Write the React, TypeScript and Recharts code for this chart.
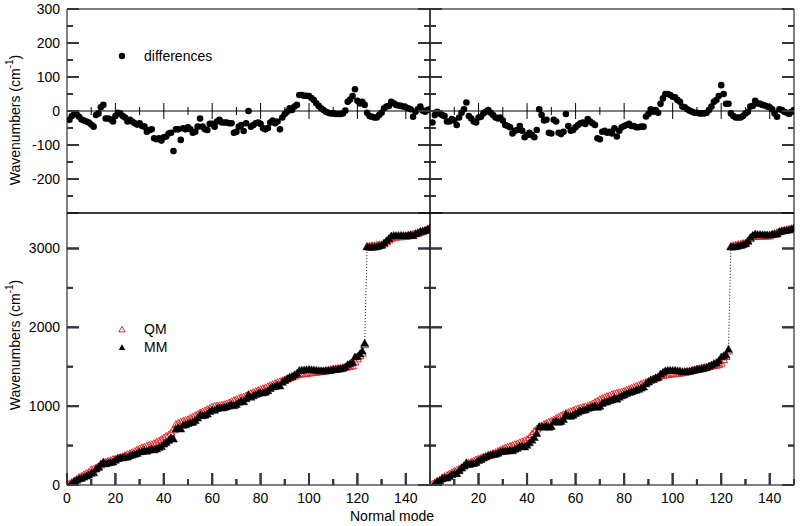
import React from 'react';
import { ScatterChart, Scatter, XAxis, YAxis, ReferenceLine, Legend } from 'recharts';

const FONT = '"Liberation Sans", Arial, Helvetica, sans-serif';
const RED = '#e8262a';
const INK = '#000';
const TICK = '#3a3048';

// ---------- tick values ----------
const xTicks = [0, 10, 20, 30, 40, 50, 60, 70, 80, 90, 100, 110, 120, 130, 140, 150];
const zeroLineTicks = [10, 20, 30, 40, 50, 60, 70, 80, 90, 100, 110, 120, 130, 140];
const diffTicks = [-300, -250, -200, -150, -100, -50, 0, 50, 100, 150, 200, 250, 300];
const waveTicks = [0, 500, 1000, 1500, 2000, 2500, 3000];

// ---------- data (normal modes 1..150) ----------
const diffLeft = [
  -26, -15, -7, -10, -17, -25, -28, -31, -34, -40,
  -46, -12, -7, 11, 18, -22, -22, -25, -31, -15,
  -5, -7, -15, -19, -31, -26, -31, -36, -40, -36,
  -44, -46, -61, -56, -54, -80, -83, -80, -87, -77,
  -75, -66, -64, -118, -54, -54, -85, -51, -54, -48,
  -54, -64, -61, -46, -22, -46, -54, -56, -38, -38,
  -46, -31, -26, -34, -34, -34, -36, -36, -64, -61,
  -46, -41, -59, -36, 0, -46, -41, -36, -34, -38,
  -51, -54, -50, -34, -28, -36, -31, -54, -19, -9,
  -2, 8, 3, 13, 18, 47, 47, 45, 45, 44,
  38, 32, 23, 15, 8, 3, -2, -5, -7, -7,
  -9, -9, -9, -7, 1, 27, 34, 44, 64, 30,
  22, 27, 18, -5, -15, -17, -19, -19, -12, -5,
  8, 13, 15, 27, 23, 18, 16, 15, 13, 11,
  8, 5, -17, -2, 5, 13, 1, -2, 3, 5,
];

const diffRight = [
  -34, -12, -2, -7, -12, -15, -31, -31, -24, -28,
  -41, -19, -5, 5, 25, -15, -22, -31, -34, -19,
  -17, -7, -2, 3, -5, -12, -19, -22, -19, -28,
  -41, -44, -48, -66, -58, -56, -44, -58, -77, -71,
  -64, -71, -77, -56, 5, -12, -28, -26, -64, -66,
  -26, -31, -64, -68, -61, -9, -44, -58, -56, -48,
  -41, -36, -34, -38, -24, -31, -36, -41, -80, -83,
  -61, -58, -64, -61, -66, -51, -75, -58, -48, -44,
  -41, -38, -44, -44, -48, -48, -46, -46, -16, -9,
  5, -2, 3, -5, 21, 37, 50, 50, 47, 42,
  40, 32, 27, 13, 11, 5, 1, -2, -5, -5,
  -7, -7, -7, -5, 3, 13, 27, 32, 44, 76,
  50, 21, 21, -7, -15, -19, -19, -19, -15, -7,
  -2, 13, 15, 30, 22, 21, 18, 16, 13, 11,
  5, -7, -17, 5, 3, -2, -5, -9, -2, 3,
];

const qmLeft = [
  15, 35, 52, 70, 95, 110, 128, 145, 160, 190,
  200, 215, 232, 255, 275, 290, 300, 310, 322, 330,
  340, 350, 360, 372, 385, 398, 410, 425, 440, 456,
  470, 480, 490, 500, 511, 525, 540, 556, 575, 596,
  615, 632, 660, 700, 765, 780, 795, 808, 818, 828,
  845, 860, 878, 895, 912, 925, 940, 955, 970, 988,
  995, 1000, 1005, 1010, 1018, 1028, 1040, 1055, 1070, 1082,
  1095, 1105, 1115, 1130, 1145, 1160, 1172, 1185, 1196, 1208,
  1220, 1232, 1245, 1258, 1272, 1285, 1298, 1310, 1322, 1335,
  1348, 1360, 1372, 1385, 1398, 1405, 1410, 1414, 1417, 1420,
  1424, 1428, 1432, 1436, 1440, 1445, 1450, 1456, 1462, 1470,
  1474, 1478, 1482, 1488, 1495, 1500, 1506, 1512, 1560, 1600,
  1640, 1673, 1780, 3025, 3030, 3034, 3037, 3040, 3043, 3046,
  3060, 3085, 3110, 3130, 3143, 3146, 3148, 3150, 3151, 3152,
  3160, 3170, 3180, 3188, 3194, 3205, 3218, 3230, 3242, 3257,
];

const qmRight = [
  10, 28, 45, 62, 90, 105, 120, 138, 155, 173,
  185, 200, 220, 240, 258, 275, 290, 305, 318, 330,
  340, 350, 360, 372, 385, 398, 410, 425, 440, 456,
  468, 478, 488, 500, 511, 522, 535, 548, 560, 575,
  600, 640, 680, 710, 735, 750, 765, 780, 795, 807,
  825, 842, 860, 875, 891, 905, 918, 930, 942, 955,
  965, 975, 983, 990, 997, 1010, 1028, 1045, 1065, 1082,
  1095, 1108, 1120, 1132, 1145, 1155, 1163, 1171, 1179, 1187,
  1200, 1212, 1225, 1238, 1250, 1262, 1275, 1288, 1300, 1314,
  1328, 1342, 1356, 1370, 1386, 1392, 1398, 1403, 1407, 1411,
  1414, 1417, 1420, 1424, 1428, 1435, 1443, 1452, 1461, 1470,
  1476, 1482, 1489, 1496, 1504, 1510, 1515, 1520, 1530, 1546,
  1590, 1630, 1700, 3025, 3035, 3042, 3050, 3056, 3062, 3067,
  3095, 3125, 3152, 3154, 3155, 3156, 3157, 3158, 3159, 3160,
  3175, 3188, 3200, 3210, 3220, 3228, 3236, 3244, 3250, 3257,
];

type Pt = { x: number; y: number };
const toPts = (arr: number[]): Pt[] => arr.map((v, i) => ({ x: i + 1, y: v }));
const toMM = (qm: number[], diff: number[]): Pt[] => qm.map((v, i) => ({ x: i + 1, y: v + diff[i] }));
const zeroTickPts: Pt[] = zeroLineTicks.map((v) => ({ x: v, y: 0 }));

// ---------- markers ----------
const triPath = (cx: number, cy: number, s = 1) =>
  `M${cx},${cy - 4 * s}L${cx + 4 * s},${cy + 3 * s}L${cx - 4 * s},${cy + 3 * s}Z`;

const DotShape = (p: any) => <circle cx={p.cx} cy={p.cy} r={3.3} fill={INK} />;
const MMShape = (p: any) => <path d={triPath(p.cx, p.cy)} fill={INK} stroke={INK} strokeWidth={0.5} />;
const QMShape = (p: any) => <path d={triPath(p.cx, p.cy)} fill="none" stroke={RED} strokeWidth={1} />;
const ZeroTickShape = (p: any) => {
  const v = p.payload ? p.payload.x : 0;
  const len = v % 20 === 0 ? 8 : 4;
  return <line x1={p.cx} x2={p.cx} y1={p.cy - len} y2={p.cy + len} stroke={INK} strokeWidth={1} />;
};

const textStyle = { fontSize: 14, fontFamily: FONT, fill: INK } as const;

// ---------- axis titles ----------
function makeYLabel(centerY: number) {
  return (props: any) => {
    const vb = props.viewBox || { x: 66, width: 1 };
    const cx = vb.x + (vb.width || 0) - 47;
    return (
      <text transform={`translate(${cx},${centerY}) rotate(-90)`} textAnchor="middle" {...textStyle}>
        Wavenumbers (cm<tspan dy={-7} fontSize={10}>-1</tspan>
        <tspan dy={7}>)</tspan>
      </text>
    );
  };
}

const xLabel = (props: any) => {
  const vb = props.viewBox || { x: 67, y: 485 };
  return (
    <text x={vb.x + 325} y={vb.y + 36} textAnchor="middle" {...textStyle}>Normal mode</text>
  );
};

// ---------- legends ----------
type LegendItem = { name: string; marker: 'dot' | 'qm' | 'mm' };
const legendDiff: LegendItem[] = [{ name: 'differences', marker: 'dot' }];
const legendWave: LegendItem[] = [
  { name: 'QM', marker: 'qm' },
  { name: 'MM', marker: 'mm' },
];

const legendContent = (items: LegendItem[]) => () => (
  <div style={{ fontFamily: FONT, fontSize: 14, color: INK }}>
    {items.map((it) => (
      <div key={it.name} style={{ display: 'flex', alignItems: 'center', height: 18 }}>
        <svg width={12} height={18} style={{ display: 'block' }}>
          {it.marker === 'dot' ? <circle cx={6} cy={9} r={3.2} fill={INK} /> : null}
          {it.marker === 'qm' ? <path d={triPath(6, 9.5, 0.8)} fill="none" stroke={RED} strokeWidth={1} /> : null}
          {it.marker === 'mm' ? <path d={triPath(6, 9.5, 0.8)} fill={INK} /> : null}
        </svg>
        <span style={{ marginLeft: 16, lineHeight: '18px', whiteSpace: 'nowrap' }}>{it.name}</span>
      </div>
    ))}
  </div>
);

// ---------- panel ----------
type PanelProps = {
  kind: 'diff' | 'wave';
  side: 'left' | 'right';
  diff: number[];
  qm: number[];
};

function Panel({ kind, side, diff, qm }: PanelProps) {
  const isDiff = kind === 'diff';
  const isLeft = side === 'left';
  const margin = {
    top: (isDiff ? 9 : 213) - 1,
    bottom: (isDiff ? 313 : 41) - 1,
    left: (isLeft ? 67 : 430) - 1,
    right: (isLeft ? 370 : 6) - 1,
  };
  const yDomain: [number, number] = isDiff ? [-300, 300] : [0, 3450];
  const yTicks = isDiff ? diffTicks : waveTicks;
  const yMajor = isDiff ? 100 : 1000;
  const minYLabel = isDiff ? -200 : 0;
  const minXLabel = isLeft ? 0 : 20;
  const leftPts = yTicks.map((v) => ({ x: 0, y: v }));
  const rightPts = yTicks.map((v) => ({ x: 150, y: v }));
  const botPts = xTicks.map((v) => ({ x: v, y: yDomain[0] }));
  const yLen = (v: number) => (v % yMajor === 0 ? 12 : 6);
  const xLen = (v: number) => (v % 20 === 0 ? 12 : 6);

  return (
    <div style={{ position: 'absolute', left: 0, top: 0, width: 800, height: 526 }}>
      <ScatterChart width={800} height={526} margin={margin}>
        <XAxis
          type="number"
          dataKey="x"
          domain={[0, 150]}
          ticks={xTicks}
          interval={0}
          allowDataOverflow
          height={1}
          tickSize={0}
          tickMargin={0}
          tickLine={false}
          axisLine={{ stroke: INK }}
          tick={(p: any) =>
            isDiff ? (
              <g />
            ) : (
              <g>
                <line x1={p.x} x2={p.x} y1={p.y} y2={p.y - xLen(p.payload.value)} stroke={TICK} strokeWidth={2} />
                {p.payload.value % 20 === 0 && p.payload.value >= minXLabel && p.payload.value < 150 ? (
                  <text x={p.x} y={p.y + 18} textAnchor="middle" {...textStyle}>{p.payload.value}</text>
                ) : null}
              </g>
            )
          }
          label={!isDiff && isLeft ? xLabel : undefined}
        />
        <XAxis
          xAxisId="t"
          orientation="top"
          type="number"
          domain={[0, 150]}
          allowDataOverflow
          height={1}
          tickSize={0}
          tickLine={false}
          tick={() => <g />}
          axisLine={{ stroke: INK }}
        />
        <YAxis
          type="number"
          dataKey="y"
          domain={yDomain}
          ticks={yTicks}
          interval={0}
          allowDataOverflow
          width={1}
          tickSize={0}
          tickMargin={0}
          tickLine={false}
          axisLine={{ stroke: INK }}
          tick={(p: any) => (
            <g>
              <line x1={p.x} x2={p.x + yLen(p.payload.value)} y1={p.y} y2={p.y} stroke={TICK} strokeWidth={2} />
              {isLeft && p.payload.value % yMajor === 0 && p.payload.value >= minYLabel ? (
                <text x={p.x - 7} y={p.y + 5} textAnchor="end" {...textStyle}>{p.payload.value}</text>
              ) : null}
            </g>
          )}
          label={isLeft ? makeYLabel(isDiff ? 120 : 345) : undefined}
        />
        <YAxis
          yAxisId="r"
          orientation="right"
          type="number"
          domain={yDomain}
          ticks={yTicks}
          interval={0}
          allowDataOverflow
          width={1}
          tickSize={0}
          tickMargin={0}
          tickLine={false}
          axisLine={{ stroke: INK }}
          tick={(p: any) => (
            <g>
              <line x1={p.x - yLen(p.payload.value)} x2={p.x} y1={p.y} y2={p.y} stroke={TICK} strokeWidth={2} />
            </g>
          )}
        />
        {isDiff ? <ReferenceLine y={0} stroke={INK} strokeWidth={1} /> : null}
        <Scatter
          name="l"
          data={leftPts}
          shape={(p: any) => <line x1={p.cx} x2={p.cx + yLen(p.payload ? p.payload.y : 0)} y1={p.cy} y2={p.cy} stroke={TICK} strokeWidth={2} />}
          legendType="none"
          isAnimationActive={false}
        />
        <Scatter
          name="r"
          data={rightPts}
          shape={(p: any) => <line x1={p.cx - yLen(p.payload ? p.payload.y : 0)} x2={p.cx} y1={p.cy} y2={p.cy} stroke={TICK} strokeWidth={2} />}
          legendType="none"
          isAnimationActive={false}
        />
        {!isDiff ? (
          <Scatter
            name="b"
            data={botPts}
            shape={(p: any) => <line x1={p.cx} x2={p.cx} y1={p.cy - xLen(p.payload ? p.payload.x : 0)} y2={p.cy} stroke={TICK} strokeWidth={2} />}
            legendType="none"
            isAnimationActive={false}
          />
        ) : null}
        {isDiff ? (
          <Scatter name="zero-ticks" data={zeroTickPts} shape={ZeroTickShape} legendType="none" isAnimationActive={false} />
        ) : null}
        {isDiff ? (
          <Scatter name="differences" data={toPts(diff)} shape={DotShape} isAnimationActive={false} />
        ) : null}
        {!isDiff ? (
          <Scatter name="QM" data={toPts(qm)} shape={QMShape} isAnimationActive={false} />
        ) : null}
        {!isDiff ? (
          <Scatter
            name="MM"
            data={toMM(qm, diff)}
            shape={MMShape}
            line={{ stroke: INK, strokeWidth: 1, strokeDasharray: '1 2' }}
            lineType="joint"
            isAnimationActive={false}
          />
        ) : null}
        {isLeft ? (
          <Legend
            layout="vertical"
            align="center"
            verticalAlign="middle"
            wrapperStyle={{ left: 116, top: isDiff ? 47 : 320, width: 'auto', height: 'auto' }}
            content={legendContent(isDiff ? legendDiff : legendWave)}
          />
        ) : null}
      </ScatterChart>
    </div>
  );
}

export default function App() {
  return (
    <div style={{ position: 'absolute', left: 0, top: 0, width: 800, height: 526, background: '#fff' }}>
      <Panel kind="diff" side="left" diff={diffLeft} qm={qmLeft} />
      <Panel kind="diff" side="right" diff={diffRight} qm={qmRight} />
      <Panel kind="wave" side="left" diff={diffLeft} qm={qmLeft} />
      <Panel kind="wave" side="right" diff={diffRight} qm={qmRight} />
    </div>
  );
}
